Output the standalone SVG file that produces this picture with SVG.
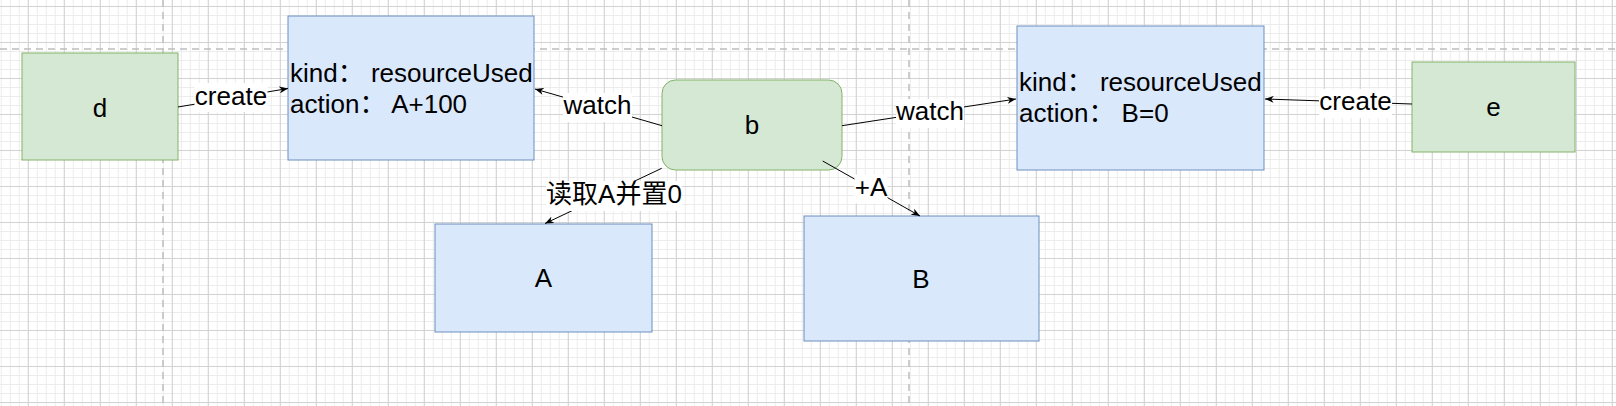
<svg xmlns="http://www.w3.org/2000/svg" width="1616" height="406" viewBox="0 0 1616 406">
<defs>
<style>
text{font-family:"Liberation Sans","Noto Sans CJK SC",Arial,sans-serif;fill:#000}
.lbl{font-size:26px;text-anchor:middle}
.nl{font-size:26px;text-anchor:middle}
.bt{font-size:26px}
.green{fill:#d5e8d4;stroke:#82b366;stroke-width:1}
.blue{fill:#dae8fc;stroke:#6c8ebf;stroke-width:1}
.edge{fill:none;stroke:#000;stroke-width:1;marker-end:url(#arr)}
.lb{fill:#fff}
.pg{fill:none;stroke:#bdbdbd;stroke-width:1.5;stroke-dasharray:7 5}
</style>
<pattern id="minor" x="0.8" y="6" width="9" height="9" patternUnits="userSpaceOnUse">
<path d="M0.5 0V9M0 0.5H9" stroke="#ececec" stroke-width="1" fill="none"/>
</pattern>
<pattern id="major" x="27.8" y="6" width="36" height="36" patternUnits="userSpaceOnUse">
<path d="M0.5 0V36M0 0.5H36" stroke="#d2d2d2" stroke-width="1" fill="none"/>
</pattern>
<marker id="arr" viewBox="0 0 10 8" refX="10" refY="4" markerWidth="9" markerHeight="7" markerUnits="userSpaceOnUse" orient="auto">
<path d="M0,0 L10,4 L0,8 L3,4 Z" fill="#000"/>
</marker>
</defs>
<g id="background">
<rect width="1616" height="406" fill="#fff"/>
<rect width="1616" height="406" fill="url(#minor)"/>
<rect width="1616" height="406" fill="url(#major)"/>
<path class="pg" d="M0 49H1616M163 0V406M909 0V406"/>
</g>
<g id="node-d"><rect class="green" x="22" y="53" width="156" height="107"/><text class="nl" x="100" y="116.5">d</text></g>
<g id="node-res1"><rect class="blue" x="288" y="16" width="246" height="144"/><text class="bt" x="290" y="81.5">kind： resourceUsed</text><text class="bt" x="290" y="113">action： A+100</text></g>
<g id="node-b"><rect class="green" x="662" y="80" width="180" height="90" rx="13.5" ry="13.5"/><text class="nl" x="752" y="134">b</text></g>
<g id="node-res2"><rect class="blue" x="1017" y="26" width="247" height="144"/><text class="bt" x="1019" y="90.5">kind： resourceUsed</text><text class="bt" x="1019" y="122">action： B=0</text></g>
<g id="node-e"><rect class="green" x="1412" y="62" width="163" height="90"/><text class="nl" x="1493.5" y="115.5">e</text></g>
<g id="node-A"><rect class="blue" x="435" y="224" width="217" height="108"/><text class="nl" x="543.5" y="287">A</text></g>
<g id="node-B"><rect class="blue" x="804" y="216" width="235" height="125"/><text class="nl" x="921" y="287.5">B</text></g>
<g id="connectors">
<path class="edge" d="M178 107L288 88.5"/>
<path class="edge" d="M662 125.7L535 89"/>
<path class="edge" d="M842 125.7L1016 99"/>
<path class="edge" d="M1412 104L1265 99"/>
<path class="edge" d="M661.7 168.3L545 223.5"/>
<path class="edge" d="M822.7 161L920 216"/>
<rect class="lb" x="194.5" y="83" width="73" height="29"/><text class="lbl" x="231" y="104.5">create</text>
<rect class="lb" x="563" y="93" width="69" height="29"/><text class="lbl" x="597.5" y="114.3">watch</text>
<rect class="lb" x="896" y="99" width="68" height="29"/><text class="lbl" x="930" y="120">watch</text>
<rect class="lb" x="1319" y="89" width="73" height="29"/><text class="lbl" x="1355.5" y="110">create</text>
<rect class="lb" x="546" y="181" width="136" height="30"/><text class="lbl" x="614" y="203.3">读取A并置0</text>
<rect class="lb" x="854.5" y="174.5" width="33" height="29"/><text class="lbl" x="871" y="196">+A</text>
</g>
</svg>
